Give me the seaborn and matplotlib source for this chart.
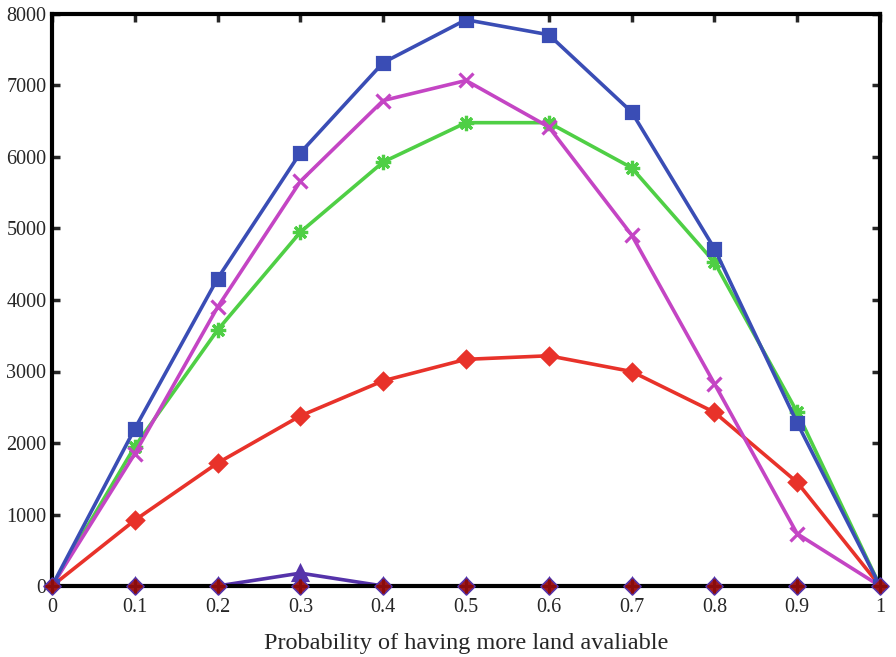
import matplotlib
matplotlib.use('Agg')
import matplotlib.pyplot as plt
import numpy as np
import pandas as pd
import seaborn as sns

# probability values on the x axis
prob = [0, 0.1, 0.2, 0.3, 0.4, 0.5, 0.6, 0.7, 0.8, 0.9, 1]

# series
blue_sq = [0, 2200, 4300, 6060, 7320, 7920, 7710, 6630, 4720, 2280, 0]
magenta_x = [0, 1850, 3900, 5660, 6790, 7070, 6420, 4910, 2830, 730, 0]
green_star = [0, 1950, 3580, 4950, 5930, 6480, 6480, 5850, 4530, 2430, 0]
red_dia = [0, 920, 1720, 2380, 2870, 3170, 3220, 3000, 2430, 1450, 0]
purple_tri = [0, 0, 0, 180, 0, 0, 0, 0, 0, 0, 0]
darkred_flat = [0, 0, 0, 0, 0, 0, 0, 0, 0, 0, 0]

series = [
    ('s1', blue_sq, '#3a4db5', 's', 8),
    ('s2', magenta_x, '#c445c4', 'x', 10),
    ('s3', green_star, '#4fcf45', (8, 2, 0), 11),
    ('s4', red_dia, '#e8322a', 'D', 8),
    ('s5', purple_tri, '#5533aa', '^', 10),
]

sns.set_style('white')
plt.rcParams['font.family'] = ['Liberation Serif', 'DejaVu Serif']

fig = plt.figure(figsize=(8.96, 6.57), dpi=100)
ax = fig.add_axes([52 / 896, 1 - 586 / 657, (880 - 52) / 896, (586 - 14) / 657])

# draw back to front like the reference
for name, vals, col, mk, ms in series[::-1]:
    df = pd.DataFrame({'p': prob, 'v': vals})
    sns.lineplot(data=df, x='p', y='v', ax=ax, color=col, marker=mk,
                 markersize=ms, linewidth=2.6, markeredgewidth=2.3,
                 markeredgecolor=col, legend=False, zorder=2)

# the flat series: dark red marks sitting on the bottom axis
flat = pd.DataFrame({'p': prob, 'v': darkred_flat})
sns.scatterplot(data=flat, x='p', y='v', ax=ax, marker='D', s=75, color='#a01818',
                edgecolor='#5533aa', linewidth=1.2, clip_on=False, zorder=6, legend=False)
sns.scatterplot(data=flat, x='p', y='v', ax=ax, marker='+', s=90, color='#8a0c0c',
                linewidth=2.2, clip_on=False, zorder=7, legend=False)

ax.set_xlim(0, 1)
ax.set_ylim(0, 8000)
ax.set_xticks(prob)
ax.set_xticklabels(['0', '0.1', '0.2', '0.3', '0.4', '0.5', '0.6', '0.7', '0.8', '0.9', '1'])
ax.set_yticks(range(0, 8001, 1000))
ax.set_xlabel('Probability of having more land avaliable', fontsize=17.5, labelpad=11)
ax.set_ylabel('')
ax.tick_params(direction='in', length=6, width=2.5, labelsize=14.5, top=True, right=True,
               bottom=True, left=True, pad=9)
ax.tick_params(axis='y', pad=4)
for sp in ax.spines.values():
    sp.set_linewidth(3)
    sp.set_color('black')
    sp.set_visible(True)
    sp.set_zorder(4)

fig.savefig('out.png', dpi=100)
